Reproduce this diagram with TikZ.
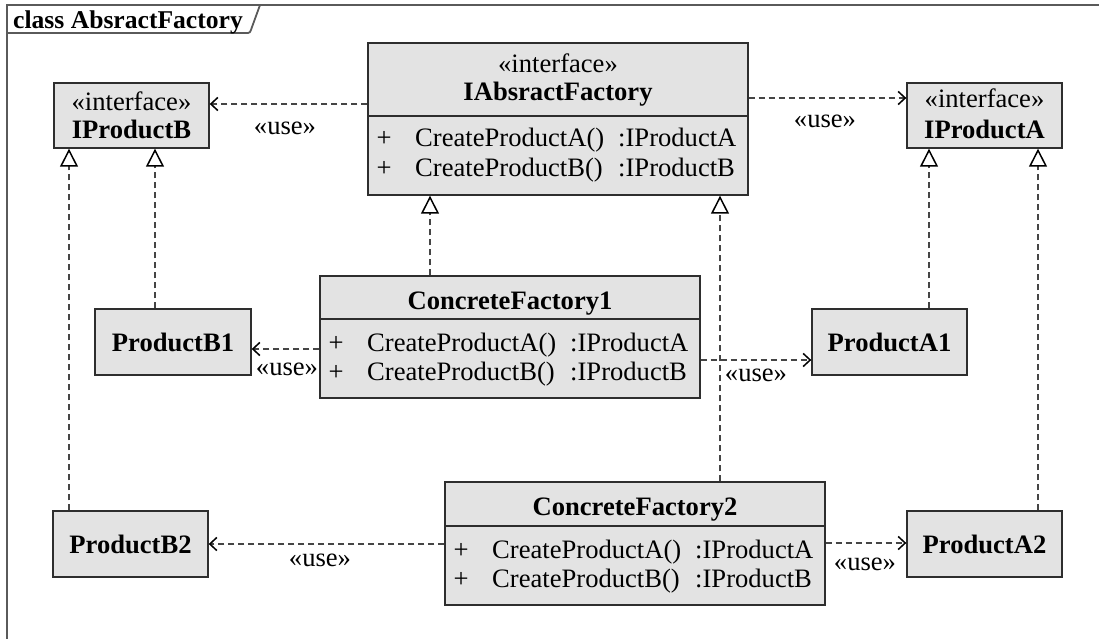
\documentclass[tikz,border=0pt]{standalone}
\usepackage{fontspec}
\setmainfont{Liberation Serif}
\usetikzlibrary{arrows.meta}
\definecolor{boxfill}{HTML}{E3E3E3}
\definecolor{boxline}{HTML}{2E2E2E}
\definecolor{conn}{HTML}{454545}
\definecolor{framecol}{HTML}{5A5A5A}
\begin{document}
\begin{tikzpicture}[x=1pt,y=-1pt,
  every node/.style={font=\fontsize{26.6}{30}\selectfont},
  umlbox/.style={draw=boxline, fill=boxfill, line width=1.4pt, inner sep=0pt, rectangle},
  txt/.style={inner sep=0pt, anchor=base},
  txtl/.style={inner sep=0pt, anchor=base west},
  bold/.style={font=\fontsize{26.6}{30}\selectfont\bfseries},
  divider/.style={draw=boxline, line width=1.8pt},
  framestyle/.style={draw=framecol, line width=1.8pt},
  realize/.style={draw=conn, line width=1.3pt, dash pattern=on 6pt off 4pt,
    arrows={-{Triangle[open, length=18pt, width=18pt, line width=1.5pt, color=black]}}},
  usedep/.style={draw=conn, line width=1.3pt, dash pattern=on 6pt off 4pt,
    arrows={-{Straight Barb[length=7pt, width=13pt, line width=1.5pt, color=black]}}}
]
\useasboundingbox (0,0) rectangle (1099,639);

% frame
\draw[framestyle] (7,639) -- (7,5) -- (1099,5);
\draw[framestyle] (7,33) -- (246,33) .. controls (250,33) .. (252,27) -- (260,5);
\node[txtl, font=\fontsize{25.6}{30}\selectfont\bfseries] (title) at (13,29) {class AbsractFactory};

% boxes
\node[umlbox, minimum width=155pt, minimum height=65pt] (ipb) at (131.5,115.5) {};
\node[umlbox, minimum width=380pt, minimum height=152pt] (iaf) at (558,119) {};
\node[umlbox, minimum width=155pt, minimum height=65pt] (ipa) at (984.5,115.5) {};
\node[umlbox, minimum width=380pt, minimum height=122pt] (cf1) at (510,337) {};
\node[umlbox, minimum width=156pt, minimum height=66pt] (b1) at (173,342) {};
\node[umlbox, minimum width=155pt, minimum height=66pt] (a1) at (889.5,342) {};
\node[umlbox, minimum width=380pt, minimum height=123pt] (cf2) at (635,543.5) {};
\node[umlbox, minimum width=155pt, minimum height=66pt] (b2) at (130.5,544) {};
\node[umlbox, minimum width=155pt, minimum height=66pt] (a2) at (984.5,544) {};

% dividers
\draw[divider] (iaf.west |- 0,116) -- (iaf.east |- 0,116);
\draw[divider] (cf1.west |- 0,319) -- (cf1.east |- 0,319);
\draw[divider] (cf2.west |- 0,526) -- (cf2.east |- 0,526);

% interface texts
\node[txt] (ipbst) at (131.5,111) {«interface»};
\node[txt, bold] (ipbnm) at (131.5,139) {IProductB};
\node[txt] (ipast) at (984.5,108) {«interface»};
\node[txt, bold] (ipanm) at (984.5,139) {IProductA};
\node[txt] (iafst) at (558,73) {«interface»};
\node[txt, bold] (iafnm) at (558,101) {IAbsractFactory};

% IAbsractFactory methods (left 368)
\node[txt] (iafp1) at (384,147) {+};
\node[txtl] (iafm1) at (415,147) {CreateProductA()};
\node[txtl] (iaft1) at (618,147) {:IProductA};
\node[txt] (iafp2) at (384,177) {+};
\node[txtl] (iafm2) at (415,177) {CreateProductB()};
\node[txtl] (iaft2) at (618,177) {:IProductB};

% ConcreteFactory1 (left 320)
\node[txt, bold] (cf1nm) at (510,309) {ConcreteFactory1};
\node[txt] (cf1p1) at (336,351) {+};
\node[txtl] (cf1m1) at (367,351) {CreateProductA()};
\node[txtl] (cf1t1) at (570,351) {:IProductA};
\node[txt] (cf1p2) at (336,380) {+};
\node[txtl] (cf1m2) at (367,380) {CreateProductB()};
\node[txtl] (cf1t2) at (570,380) {:IProductB};

% ConcreteFactory2 (left 445)
\node[txt, bold] (cf2nm) at (635,515) {ConcreteFactory2};
\node[txt] (cf2p1) at (461,558) {+};
\node[txtl] (cf2m1) at (492,558) {CreateProductA()};
\node[txtl] (cf2t1) at (695,558) {:IProductA};
\node[txt] (cf2p2) at (461,587) {+};
\node[txtl] (cf2m2) at (492,587) {CreateProductB()};
\node[txtl] (cf2t2) at (695,587) {:IProductB};

% product names
\node[txt, bold] (b1nm) at (173,351) {ProductB1};
\node[txt, bold] (a1nm) at (889.5,351) {ProductA1};
\node[txt, bold] (b2nm) at (130.5,553) {ProductB2};
\node[txt, bold] (a2nm) at (984.5,553) {ProductA2};

% realizations
\draw[realize] (b1.north -| 155,0) -- (ipb.south -| 155,0);
\draw[realize] (b2.north -| 69,0) -- (ipb.south -| 69,0);
\draw[realize] (a1.north -| 929,0) -- (ipa.south -| 929,0);
\draw[realize] (a2.north -| 1038,0) -- (ipa.south -| 1038,0);
\draw[realize] (cf1.north -| 430,0) -- (iaf.south -| 430,0);
\draw[realize] (cf2.north -| 720,0) -- (iaf.south -| 720,0);

% use dependencies
\draw[usedep] (iaf.west |- 0,104) -- (ipb.east |- 0,104);
\draw[usedep] (iaf.east |- 0,98) -- (ipa.west |- 0,98);
\draw[usedep] (cf1.west |- 0,349) -- (b1.east |- 0,349);
\draw[usedep] (cf1.east |- 0,360) -- (a1.west |- 0,360);
\draw[usedep] (cf2.west |- 0,544) -- (b2.east |- 0,544);
\draw[usedep] (cf2.east |- 0,543) -- (a2.west |- 0,543);

% use labels
\node[txt] (u1) at (285,135) {«use»};
\node[txt] (u2) at (825,128) {«use»};
\node[txt] (u3) at (287,375) {«use»};
\node[txt] (u4) at (756,381) {«use»};
\node[txt] (u5) at (320,566) {«use»};
\node[txt] (u6) at (865,570) {«use»};
\end{tikzpicture}
\end{document}
